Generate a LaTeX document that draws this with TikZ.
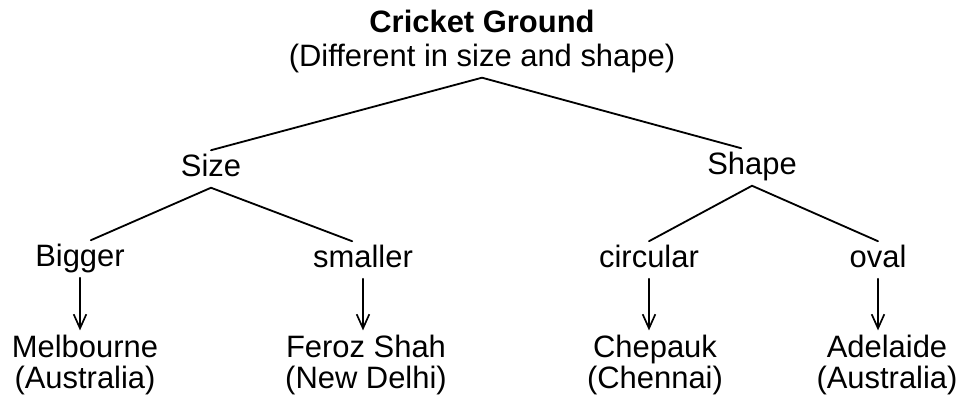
\documentclass[tikz,border=0pt]{standalone}
\usepackage{fontspec}
\setmainfont{Liberation Sans}
\usetikzlibrary{arrows.meta}

\begin{document}
\begin{tikzpicture}[x=0.025cm,y=-0.025cm,line cap=round,line join=round,
  font=\fontsize{22}{22.7}\selectfont,
  lbl/.style={inner sep=0.1cm,text height=16pt,text depth=4.6pt},
  leaf/.style={inner sep=0.1cm,align=center},
  branch/.style={line width=1.3pt},
  down/.style={line width=1.2pt,-{Straight Barb[length=10pt,width=9pt]}}]
\path[use as bounding box,fill=white] (0,0) rectangle (961,399);

% titre et deux criteres
\node[leaf,anchor=base,font=\fontsize{22}{24.8}\selectfont] (ground) at (482,67)
  {\bfseries Cricket Ground\\(Different in size and shape)};
\node[lbl,anchor=base] (size) at (211,177) {Size};
\node[lbl,anchor=base] (shape) at (752,175) {Shape};

% sous-classes
\node[lbl,anchor=base] (bigger) at (80,267) {Bigger};
\node[lbl,anchor=base] (smaller) at (363,268) {smaller};
\node[lbl,anchor=base] (circular) at (649,268) {circular};
\node[lbl,anchor=base] (oval) at (878,268) {oval};

% exemples de terrains
\node[leaf,anchor=base] (melb) at (85,389) {Melbourne\\(Australia)};
\node[leaf,anchor=base] (feroz) at (366,389) {Feroz Shah\\(New Delhi)};
\node[leaf,anchor=base] (chep) at (655,389) {Chepauk\\(Chennai)};
\node[leaf,anchor=base] (adel) at (887,389) {Adelaide\\(Australia)};

\draw[branch] (size.north) -- (ground.south) -- (shape.120);
\draw[branch] (bigger.60) -- (size.south) -- (smaller.120);
\draw[branch] (circular.north) -- (shape.south) -- (oval.north);
\foreach \a/\b in {bigger/melb,smaller/feroz,circular/chep,oval/adel}
  \draw[down] (\a.south) -- (\a.south |- \b.north);
\end{tikzpicture}
\end{document}
